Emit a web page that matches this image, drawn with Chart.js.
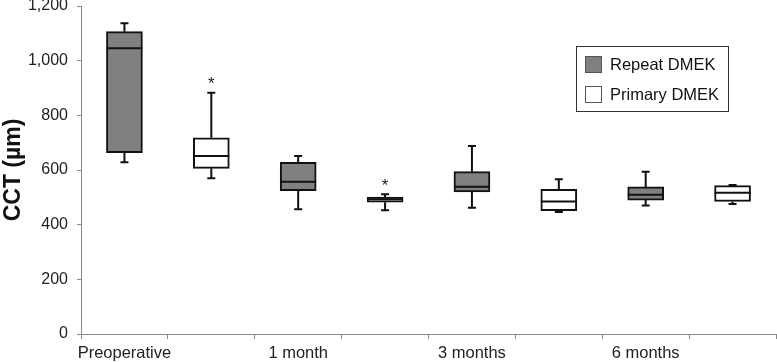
<!DOCTYPE html>
<html lang="en">
<head>
  <meta charset="UTF-8" />
  <title>CCT after repeat and primary DMEK</title>
  <script src="https://cdn.jsdelivr.net/npm/chart.js"></script>
  <style>
    html, body { margin: 0; padding: 0; background: #fff; }
    #wrap { width: 777px; height: 362px; }
  </style>
</head>
<body>
  <div id="wrap"><canvas id="cctChart"></canvas></div>

  <script>
    // time points (label sits under the repeat box, the primary slot is blank)
    const timePoints = ['Preoperative', '1 month', '3 months', '6 months'];

    // [min, q1, median, q3, max] in µm
    const repeatBox = [
      [628, 663, 1045, 1106, 1137],
      [456, 524, 557, 628, 651],
      [462, 520, 539, 594, 688],
      [470, 490, 509, 538, 594]
    ];
    const primaryBox = [
      [570, 606, 651, 718, 883],
      [453, 482, 493, 501, 511],
      [446, 451, 485, 529, 566],
      [476, 485, 517, 543, 545]
    ];
    // asterisk above the whisker
    const primaryStar = [true, true, false, false];
    const repeatStar = [false, false, false, false];

    const yTicks = [0, 200, 400, 600, 800, 1000, 1200];

    const FONT = '"Liberation Sans", Arial, sans-serif';

    // 8 slots: repeat, primary, repeat, primary ...
    const labels = [];
    const repeatData = [];
    const primaryData = [];
    timePoints.forEach((t, i) => {
      labels.push(t, '');
      repeatData.push([repeatBox[i][1], repeatBox[i][3]], null);
      primaryData.push(null, [primaryBox[i][1], primaryBox[i][3]]);
    });

    const boxPlugin = {
      id: 'boxExtras',
      afterDatasetsDraw(chart) {
        const ctx = chart.ctx;
        const y = chart.scales.y;
        const sets = [[repeatBox, repeatStar, 0], [primaryBox, primaryStar, 1]];
        ctx.save();
        ctx.strokeStyle = '#111';
        ctx.lineWidth = 2;
        sets.forEach(([boxes, stars, parity], di) => {
          const meta = chart.getDatasetMeta(di);
          meta.data.forEach((bar, idx) => {
            if (idx % 2 !== parity) return;
            const si = (idx - parity) / 2;
            const s = boxes[si];
            const x = bar.x;
            const hw = bar.width / 2;
            const [mn, q1, med, q3, mx] = s.map(v => y.getPixelForValue(v));
            ctx.beginPath();
            // whiskers
            ctx.moveTo(x, q3); ctx.lineTo(x, mx);
            ctx.moveTo(x - 4, mx); ctx.lineTo(x + 4, mx);
            ctx.moveTo(x, q1); ctx.lineTo(x, mn);
            ctx.moveTo(x - 4, mn); ctx.lineTo(x + 4, mn);
            // median
            ctx.moveTo(x - hw, med); ctx.lineTo(x + hw, med);
            ctx.stroke();
            if (stars[si]) {
              ctx.fillStyle = '#222';
              ctx.font = '17px ' + FONT;
              ctx.textAlign = 'center';
              ctx.textBaseline = 'middle';
              ctx.fillText('*', x, mx - 8);
            }
          });
        });
        ctx.restore();
      },
      afterDraw(chart) {
        // legend box in the upper right of the plot
        const ctx = chart.ctx;
        const area = chart.chartArea;
        const bx = area.right - 200, by = area.top + 40, bw = 152, bh = 65;
        ctx.save();
        ctx.strokeStyle = '#333';
        ctx.lineWidth = 1;
        ctx.strokeRect(bx + 0.5, by + 0.5, bw, bh);
        ctx.font = '16.5px ' + FONT;
        ctx.textBaseline = 'middle';
        ctx.textAlign = 'left';
        chart.data.datasets.forEach((ds, i) => {
          const sy = by + 10 + i * 30;
          ctx.fillStyle = ds.backgroundColor;
          ctx.fillRect(bx + 9, sy, 17, 17);
          ctx.strokeStyle = '#555';
          ctx.strokeRect(bx + 9.5, sy + 0.5, 16, 16);
          ctx.fillStyle = '#111';
          ctx.fillText(ds.label, bx + 34, sy + 9);
        });
        ctx.restore();
      }
    };

    new Chart(document.getElementById('cctChart'), {
      type: 'bar',
      data: {
        labels,
        datasets: [
          {
            label: 'Repeat DMEK',
            data: repeatData,
            backgroundColor: '#808080',
            borderColor: '#111',
            borderWidth: 2,
            borderSkipped: false,
            grouped: false,
            barThickness: 36
          },
          {
            label: 'Primary DMEK',
            data: primaryData,
            backgroundColor: '#ffffff',
            borderColor: '#111',
            borderWidth: 2,
            borderSkipped: false,
            grouped: false,
            barThickness: 36
          }
        ]
      },
      options: {
        responsive: true,
        maintainAspectRatio: false,
        animation: false,
        layout: { padding: { top: 6, right: 1, left: 0, bottom: 0 } },
        plugins: {
          legend: { display: false },
          tooltip: { enabled: false }
        },
        scales: {
          x: {
            afterFit: s => { s.height = 28; },
            border: { color: '#888', width: 1 },
            grid: { display: true, drawOnChartArea: false, drawTicks: true, tickLength: 5, color: '#888', offset: true },
            ticks: {
              color: '#222',
              padding: 5,
              autoSkip: false,
              maxRotation: 0,
              font: { family: FONT, size: 16.5 }
            }
          },
          y: {
            min: 0,
            max: 1200,
            afterFit: s => { s.width = 81; s.paddingTop = 0; },
            afterBuildTicks: s => { s.ticks = yTicks.map(v => ({ value: v })); },
            border: { color: '#888', width: 1 },
            grid: { display: true, drawOnChartArea: false, drawTicks: true, tickLength: 4, color: '#888' },
            title: {
              display: true,
              text: 'CCT (µm)',
              color: '#111',
              padding: 0,
              font: { family: FONT, size: 23, weight: 'bold' }
            },
            ticks: {
              color: '#222',
              padding: 9,
              callback: v => v.toLocaleString('en-US'),
              font: { family: FONT, size: 16 }
            }
          }
        }
      },
      plugins: [boxPlugin]
    });
  </script>
</body>
</html>
